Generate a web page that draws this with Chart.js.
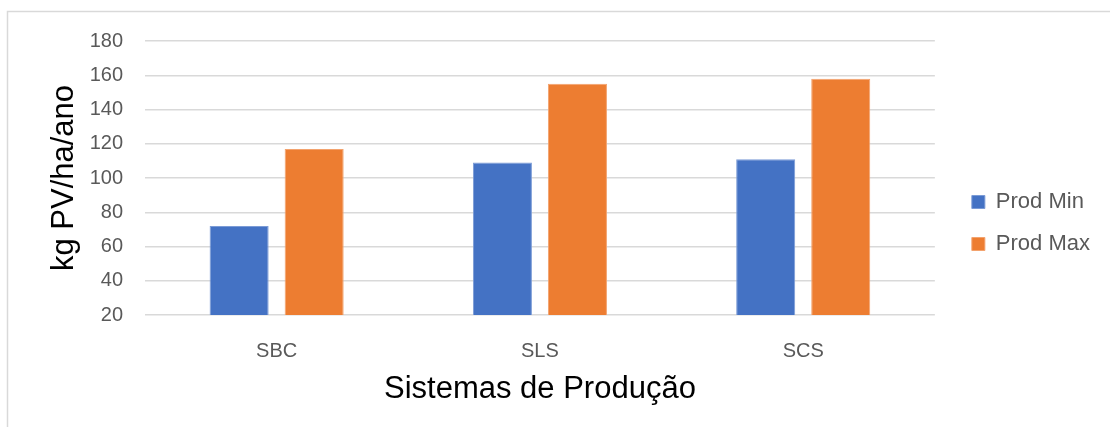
<!DOCTYPE html>
<html lang="pt">
<head>
<meta charset="utf-8">
<title>Sistemas de Produção</title>
<script src="https://cdn.jsdelivr.net/npm/chart.js@4"></script>
<style>
	html, body { margin: 0; padding: 0; background: #ffffff; overflow: hidden; }
	.bar_canvas { display: block; }
</style>
</head>
<body>
<canvas class="bar_canvas" width="1110" height="427"></canvas>
<script>
const sistemas = [ 'SBC', 'SLS', 'SCS' ];
const prodMin = [ 72, 109, 111 ];
const prodMax = [ 117, 155, 158 ];
const yTicks = [ 20, 40, 60, 80, 100, 120, 140, 160, 180 ];

// moldura cinza do gráfico (cortada à direita e embaixo)
const moldura = {
	id : 'moldura',
	beforeDraw(chart) {
		const c = chart.ctx;
		c.save();
		c.fillStyle = '#ffffff';
		c.fillRect(0, 0, chart.width, chart.height);
		c.strokeStyle = '#d9d9d9';
		c.lineWidth = 1.5;
		c.strokeRect(7.5, 11.5, chart.width + 20, chart.height + 20);
		c.restore();
	}
};

const ctx = document.querySelector(".bar_canvas");
const bar_canvas = new Chart(ctx, {
	type : 'bar',
	data : {
		labels : sistemas,
		datasets : [ {
			label : 'Prod Min',
			data : prodMin,
			backgroundColor : '#4472C4',
			borderColor : '#7b9bd6',
			borderWidth : 1
		}, {
			label : 'Prod Max',
			data : prodMax,
			backgroundColor : '#ED7D31',
			borderColor : '#f3a36e',
			borderWidth : 1
		} ]
	},
	options : {
		responsive : false,
		animation : false,
		categoryPercentage : 0.57,
		barPercentage : 0.787,
		layout : {
			padding : { top : 41, bottom : 22, left : 43, right : 10 }
		},
		scales : {
			x : {
				grid : { display : false },
				border : { display : false },
				ticks : {
					padding : 16,
					color : '#595959',
					font : { family : 'Liberation Sans, Arial', size : 20 }
				},
				title : {
					display : true,
					text : 'Sistemas de Produção',
					color : '#000000',
					padding : { top : 0, bottom : -3 },
					font : { family : 'Liberation Sans, Arial', size : 31 }
				},
				afterFit(scale) { scale.height = 90; }
			},
			y : {
				min : 20,
				max : 180,
				afterBuildTicks(scale) {
					scale.ticks = yTicks.map(v => ({ value : v }));
				},
				grid : {
					color : '#d9d9d9',
					lineWidth : 1.5,
					drawTicks : false
				},
				border : { display : false },
				ticks : {
					padding : 22,
					color : '#595959',
					font : { family : 'Liberation Sans, Arial', size : 20 }
				},
				title : {
					display : true,
					text : 'kg PV/ha/ano',
					color : '#000000',
					padding : { top : 3, bottom : 0 },
					font : { family : 'Liberation Sans, Arial', size : 31 }
				},
				afterFit(scale) { scale.width = 102; }
			},
			// só abre espaço entre a área do gráfico e a legenda
			espaco : {
				position : 'right',
				display : true,
				grid : { display : false },
				border : { display : false },
				ticks : { display : false },
				afterFit(scale) { scale.width = 17; }
			}
		},
		plugins : {
			tooltip : { enabled : false },
			legend : {
				position : 'right',
				labels : {
					boxWidth : 13,
					boxHeight : 13,
					padding : 20,
					color : '#595959',
					font : { family : 'Liberation Sans, Arial', size : 22 }
				}
			}
		}
	},
	plugins : [ moldura ]
});
</script>
</body>
</html>
